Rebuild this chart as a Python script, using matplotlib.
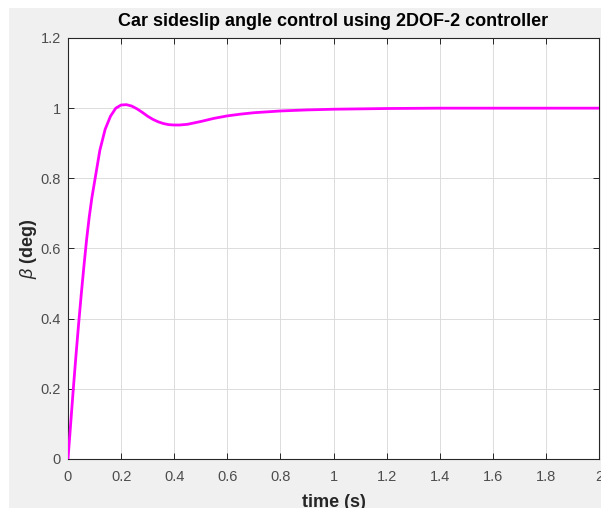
import matplotlib
matplotlib.use('Agg')
import matplotlib.pyplot as plt
import matplotlib.patches as mpatches

# step response
time_s = [0, 0.01, 0.02, 0.03, 0.04, 0.05, 0.06, 0.07, 0.08, 0.09, 0.10, 0.12, 0.14,
          0.16, 0.18, 0.20, 0.22, 0.24, 0.26, 0.28, 0.30, 0.32, 0.34, 0.36, 0.38,
          0.40, 0.42, 0.45, 0.50, 0.55, 0.60, 0.65, 0.70, 0.80, 0.90, 1.0, 1.2,
          1.4, 1.6, 1.8, 2.0]
beta_deg = [0, 0.10, 0.20, 0.295, 0.385, 0.47, 0.55, 0.625, 0.69, 0.745, 0.79, 0.88, 0.94,
            0.977, 1.0, 1.009, 1.01, 1.006, 0.998, 0.988, 0.977, 0.968, 0.961, 0.956, 0.953,
            0.952, 0.952, 0.954, 0.962, 0.971, 0.978, 0.983, 0.987, 0.992, 0.995, 0.997, 0.999,
            1.0, 1.0, 1.0, 1.0]

x_ticks = [0, 0.2, 0.4, 0.6, 0.8, 1, 1.2, 1.4, 1.6, 1.8, 2]
x_labels = ['0', '0.2', '0.4', '0.6', '0.8', '1', '1.2', '1.4', '1.6', '1.8', '2']
y_ticks = [0, 0.2, 0.4, 0.6, 0.8, 1, 1.2]
y_labels = ['0', '0.2', '0.4', '0.6', '0.8', '1', '1.2']

plt.rcParams['font.family'] = ['Liberation Sans', 'DejaVu Sans']
plt.rcParams['mathtext.fontset'] = 'custom'
plt.rcParams['mathtext.it'] = 'Liberation Sans:italic'

W, H = 601, 508
fig = plt.figure(figsize=(W / 100, H / 100), dpi=100)
fig.patch.set_facecolor('white')
# MATLAB grey figure area (the screenshot has a thin white margin top/left)
fig.add_artist(mpatches.Rectangle((9 / W, 0), 1, 1 - 8 / H, transform=fig.transFigure,
                                  facecolor='#f0f0f0', edgecolor='none', zorder=-10))

ax = fig.add_axes([68 / W, 1 - 459 / H, 531 / W, 421 / H])
ax.set_facecolor('white')
ax.plot(time_s, beta_deg, color='#ff00ff', linewidth=2.0, zorder=3)

ax.set_xlim(0, 2)
ax.set_ylim(0, 1.2)
ax.set_xticks(x_ticks)
ax.set_xticklabels(x_labels)
ax.set_yticks(y_ticks)
ax.set_yticklabels(y_labels)
ax.grid(True, color='#dcdcdc', linewidth=0.7)
ax.set_axisbelow(True)
ax.tick_params(direction='in', length=4, width=0.7, colors='#262626',
               labelcolor='#4d4d4d', labelsize=10.5, top=True, right=True)
ax.tick_params(axis='x', pad=8)
ax.tick_params(axis='y', pad=5)
for s in ax.spines.values():
    s.set_color('#262626')
    s.set_linewidth(0.8)

ax.set_title('Car sideslip angle control using 2DOF-2 controller',
             fontsize=13, fontweight='bold', color='black', pad=9)
ax.set_xlabel('time (s)', fontsize=13, fontweight='bold', color='#262626', labelpad=7)
ax.set_ylabel(r'$\beta$ (deg)', fontsize=13, fontweight='bold', color='#262626', labelpad=1)

fig.savefig('out.png', dpi=100)
